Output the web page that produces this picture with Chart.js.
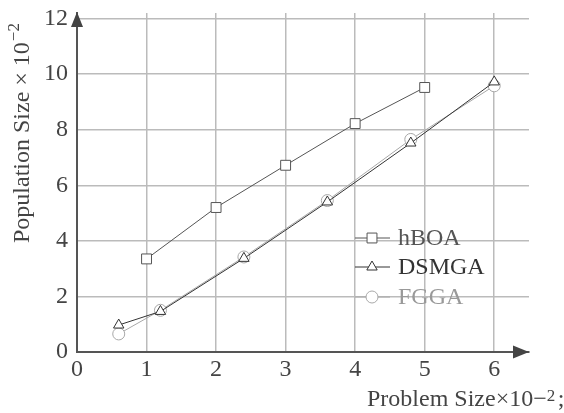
<!DOCTYPE html>
<html>
<head>
<meta charset="utf-8">
<script src="https://cdn.jsdelivr.net/npm/chart.js@4"></script>
<style>
  body { margin: 0; background: #fff; }
  canvas { display: block; }
</style>
</head>
<body>
<canvas id="chart" width="564" height="413"></canvas>
<script>
const seriesNames = ["hBOA", "DSMGA", "FGGA"];
const hboaX = [1, 2, 3, 4, 5];
const hboaY = [3.35, 5.2, 6.72, 8.22, 9.52];
const dsmgaX = [0.6, 1.2, 2.4, 3.6, 4.8, 6];
const dsmgaY = [0.97, 1.46, 3.37, 5.4, 7.52, 9.72];
const fggaX = [0.6, 1.2, 2.4, 3.6, 4.8, 6];
const fggaY = [0.65, 1.5, 3.42, 5.45, 7.65, 9.58];
const xTicks = [0, 1, 2, 3, 4, 5, 6];
const yTicks = [0, 2, 4, 6, 8, 10, 12];

const font = "'Liberation Serif', 'DejaVu Serif', serif";

function pts(xs, ys) {
  return xs.map((x, i) => ({ x: x, y: ys[i] }));
}

const lineColors = ["#555", "#333", "#a8a8a8"];
const textColors = ["#555", "#333", "#999"];
const styles = ["rect", "triangle", "circle"];

const datasets = [pts(hboaX, hboaY), pts(dsmgaX, dsmgaY), pts(fggaX, fggaY)].map((d, i) => ({
  label: seriesNames[i],
  data: d,
  borderColor: lineColors[i],
  borderWidth: 1,
  pointStyle: styles[i],
  pointRadius: i == 0 ? 7 : 6,
  pointBorderWidth: 1,
  pointBorderColor: lineColors[i],
  pointBackgroundColor: "#fff",
  fill: false,
  tension: 0
}));

// axis arrows, axis titles and the legend
const extras = {
  id: "extras",
  afterDraw(chart) {
    const ctx = chart.ctx;
    const a = chart.chartArea;
    ctx.save();
    ctx.fillStyle = "#444";
    ctx.beginPath();
    ctx.moveTo(a.left, a.top - 1);
    ctx.lineTo(a.left - 6, a.top + 14);
    ctx.lineTo(a.left + 6, a.top + 14);
    ctx.fill();
    ctx.beginPath();
    ctx.moveTo(a.right, a.bottom);
    ctx.lineTo(a.right - 16, a.bottom - 6.5);
    ctx.lineTo(a.right - 16, a.bottom + 6.5);
    ctx.fill();

    // y title
    ctx.fillStyle = "#444";
    ctx.translate(29, 243);
    ctx.rotate(-Math.PI / 2);
    ctx.font = "24px " + font;
    ctx.textBaseline = "alphabetic";
    ctx.textAlign = "left";
    const t1 = "Population Size × 10";
    ctx.fillText(t1, 0, 0);
    let w = ctx.measureText(t1).width;
    ctx.font = "17px " + font;
    ctx.fillText("−2", w + 1, -10);
    ctx.restore();

    // x title
    ctx.save();
    ctx.fillStyle = "#444";
    ctx.font = "24px " + font;
    const t2 = "Problem Size×10";
    ctx.fillText(t2, 367, 406);
    w = ctx.measureText(t2).width;
    ctx.fillText("−", 367 + w, 406);
    const w2 = ctx.measureText("−").width;
    ctx.font = "17px " + font;
    ctx.fillText("2", 367 + w + w2, 401);
    ctx.font = "24px " + font;
    ctx.fillText(";", 367 + w + w2 + 11, 406);

    // legend
    const ly = [238, 267, 297];
    chart.data.datasets.forEach((ds, i) => {
      ctx.strokeStyle = ds.borderColor;
      ctx.lineWidth = 1;
      ctx.beginPath();
      ctx.moveTo(355, ly[i]);
      ctx.lineTo(390, ly[i]);
      ctx.stroke();
      ctx.fillStyle = "#fff";
      Chart.helpers.drawPoint(ctx, {
        pointStyle: ds.pointStyle,
        radius: ds.pointRadius,
        rotation: 0,
        borderWidth: 1
      }, 372, ly[i]);
      ctx.fillStyle = textColors[i];
      ctx.font = "24px " + font;
      ctx.textBaseline = "middle";
      ctx.fillText(ds.label, 398, ly[i] + 1);
    });
    ctx.restore();
  }
};

new Chart(document.getElementById("chart"), {
  type: "line",
  data: { datasets: datasets },
  options: {
    responsive: false,
    animation: false,
    layout: { padding: { top: 13, right: 35, left: 0, bottom: 0 } },
    plugins: { legend: { display: false }, tooltip: { enabled: false } },
    scales: {
      x: {
        type: "linear",
        min: 0,
        max: 6.5,
        afterBuildTicks: (s) => { s.ticks = xTicks.map(v => ({ value: v })); },
        afterFit: (s) => { s.height = 61; s.paddingLeft = 0; s.paddingRight = 0; },
        grid: { color: "#bbb", lineWidth: 1.5, drawTicks: false },
        border: { color: "#555", width: 2 },
        ticks: { color: "#444", font: { family: font, size: 24 }, padding: 3, maxRotation: 0 }
      },
      y: {
        min: 0,
        max: 12.2,
        afterBuildTicks: (s) => { s.ticks = yTicks.map(v => ({ value: v })); },
        afterFit: (s) => { s.width = 77; s.paddingTop = 0; s.paddingBottom = 0; },
        grid: { color: "#bbb", lineWidth: 1.5, drawTicks: false },
        border: { color: "#555", width: 2 },
        ticks: { color: "#444", font: { family: font, size: 24 }, padding: 9 }
      }
    }
  },
  plugins: [extras]
});
</script>
</body>
</html>
